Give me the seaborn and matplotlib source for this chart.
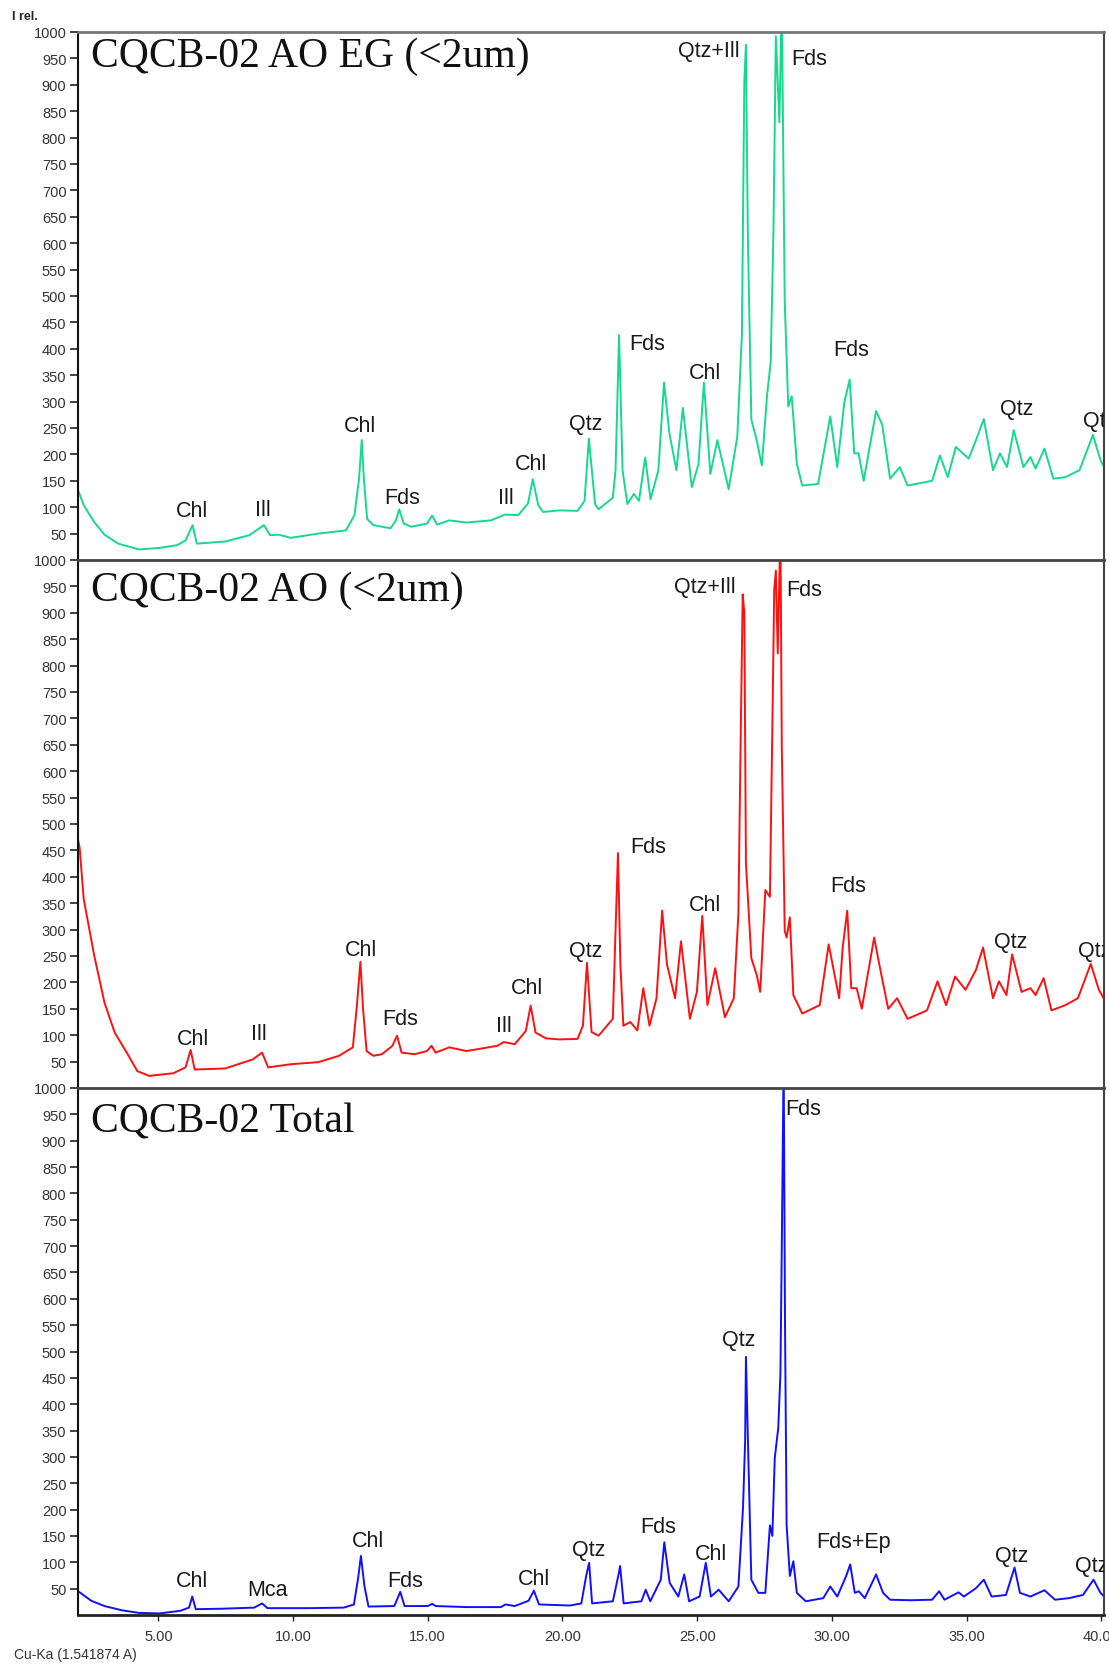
import matplotlib
matplotlib.use("Agg")
import matplotlib.pyplot as plt
import seaborn as sns
import pandas as pd

sns.set_theme(style="white")
plt.rcParams['font.family'] = ['Liberation Sans', 'DejaVu Sans']

# ---------------- data (2-theta, intensity) ----------------
eg_x = [2.0, 2.23, 2.62, 3.0, 3.51, 4.28, 5.05, 5.69, 6.01, 6.27, 6.43, 7.48, 8.38, 8.92, 9.15, 9.47, 9.91,
        10.94, 11.96, 12.28, 12.45, 12.55, 12.63, 12.75, 12.98, 13.62, 13.82, 13.94, 14.11, 14.39, 14.97,
        15.16, 15.35, 15.8, 16.44, 17.34, 17.88, 18.36, 18.72, 18.9, 19.1, 19.28, 19.9,
        20.56, 20.82, 20.98, 21.21, 21.34, 21.87, 21.97, 22.1, 22.23, 22.41, 22.65, 22.84, 23.07, 23.27,
        23.56, 23.77, 23.97, 24.23, 24.47, 24.8, 25.05, 25.25, 25.49, 25.75, 26.17, 26.49, 26.66, 26.75,
        26.81, 26.88, 27.01, 27.21, 27.4, 27.59, 27.73, 27.83, 27.92, 28.05, 28.14, 28.25, 28.38, 28.51,
        28.7, 28.9, 29.49, 29.94, 30.2, 30.46, 30.66, 30.83, 30.99, 31.18, 31.64, 31.87, 32.16, 32.52,
        32.81, 33.72, 34.01, 34.3, 34.6, 35.08, 35.4, 35.64, 35.98, 36.24, 36.5, 36.75, 37.11, 37.37,
        37.56, 37.89, 38.22, 38.67, 39.19, 39.69, 39.97, 40.16]
eg_y = [135, 104, 72, 48, 31, 20, 23, 28, 37, 66, 31, 35, 47, 66, 47, 48, 42,
        50, 56, 85, 154, 227, 154, 78, 66, 60, 75, 96, 69, 63, 69,
        84, 67, 75, 71, 75, 86, 85, 107, 153, 104, 91, 94,
        93, 112, 230, 106, 96, 118, 170, 426, 170, 106, 125, 112, 194, 115,
        170, 336, 240, 170, 288, 138, 182, 336, 163, 227, 134, 234, 426, 906,
        976, 618, 266, 227, 179, 310, 375, 618, 992, 829, 1060, 490, 291, 310,
        182, 141, 144, 272, 176, 298, 342, 202, 202, 150, 282, 256, 154, 176,
        141, 150, 198, 157, 214, 192, 234, 267, 170, 202, 176, 246, 176, 195,
        173, 211, 154, 157, 170, 237, 189, 170]

ao_x = [2.0, 2.08, 2.23, 2.62, 3.0, 3.38, 3.83, 4.22, 4.66, 5.56, 6.01, 6.2, 6.35, 7.48, 8.5, 8.85, 9.08,
        9.91, 10.94, 11.71, 12.22, 12.37, 12.5, 12.6, 12.73, 12.98, 13.3, 13.69, 13.86, 14.03, 14.52,
        14.97, 15.14, 15.29, 15.8, 16.44, 17.59, 17.82, 18.23, 18.64, 18.82, 19.0, 19.39, 19.9,
        20.56, 20.76, 20.91, 21.08, 21.34, 21.87, 21.97, 22.06, 22.15, 22.26, 22.52, 22.78, 23.0, 23.23,
        23.49, 23.7, 23.88, 24.18, 24.4, 24.73, 24.99, 25.19, 25.38, 25.67, 26.03, 26.36, 26.53, 26.62,
        26.69, 26.75, 26.81, 27.01, 27.21, 27.34, 27.53, 27.7, 27.79, 27.86, 27.92, 27.99, 28.09, 28.14,
        28.25, 28.32, 28.44, 28.57, 28.9, 29.55, 29.88, 30.27, 30.4, 30.57, 30.72, 30.92, 31.11, 31.57,
        31.76, 32.09, 32.42, 32.81, 33.53, 33.92, 34.24, 34.57, 34.96, 35.35, 35.61, 35.98, 36.2, 36.48,
        36.69, 37.04, 37.37, 37.56, 37.86, 38.15, 38.67, 39.13, 39.61, 39.91, 40.16]
ao_y = [475, 455, 358, 251, 162, 105, 67, 32, 23, 28, 39, 72, 35, 37, 54, 67, 39,
        45, 49, 61, 77, 156, 239, 149, 70, 61, 64, 80, 99, 67, 64,
        70, 80, 67, 77, 70, 80, 87, 83, 108, 156, 105, 94, 92,
        93, 118, 237, 106, 99, 131, 298, 445, 234, 118, 125, 109, 189, 118,
        170, 336, 234, 170, 278, 131, 182, 326, 157, 227, 134, 170, 330, 682,
        935, 900, 426, 246, 214, 182, 375, 362, 682, 944, 980, 823, 1060, 650,
        298, 285, 323, 176, 141, 157, 272, 170, 266, 336, 189, 189, 150, 285,
        234, 150, 170, 131, 147, 202, 157, 211, 186, 224, 266, 170, 202, 176,
        253, 182, 189, 176, 208, 147, 157, 170, 235, 186, 163]

tot_x = [2.0, 2.51, 3.0, 3.64, 4.28, 5.05, 5.82, 6.14, 6.26, 6.39, 7.41, 8.56, 8.85, 9.05, 10.6, 11.88,
         12.26, 12.41, 12.52, 12.65, 12.8, 13.76, 13.98, 14.14, 15.0, 15.16, 15.3, 16.44, 17.72, 17.88,
         18.23, 18.74, 18.94, 19.13, 20.28, 20.7, 20.88, 20.99, 21.1, 21.87, 22.07, 22.14, 22.27, 22.93,
         23.09, 23.26, 23.65, 23.78, 23.98, 24.3, 24.52, 24.7, 25.09, 25.32, 25.51, 25.8, 26.17, 26.53,
         26.7, 26.78, 26.81, 26.9, 27.01, 27.27, 27.53, 27.7, 27.79, 27.88, 28.01, 28.09, 28.14, 28.21,
         28.26, 28.32, 28.44, 28.57, 28.7, 29.03, 29.68, 29.94, 30.2, 30.53, 30.68, 30.85, 31.0, 31.22,
         31.64, 31.9, 32.16, 32.94, 33.72, 33.98, 34.18, 34.7, 34.9, 35.35, 35.64, 35.93, 36.46, 36.78,
         36.98, 37.37, 37.89, 38.28, 38.8, 39.32, 39.71, 39.97, 40.16]
tot_y = [46, 27, 17, 9, 4, 3, 8, 14, 35, 11, 12, 14, 22, 13, 13, 14,
         20, 68, 112, 55, 16, 17, 44, 17, 17, 21, 17, 15, 15, 20,
         17, 27, 46, 20, 18, 22, 74, 99, 22, 26, 74, 93, 22, 26,
         48, 26, 67, 138, 61, 35, 77, 26, 35, 99, 35, 48, 26, 54,
         202, 330, 490, 298, 67, 42, 42, 170, 150, 298, 355, 458, 695, 1060,
         554, 170, 74, 102, 42, 26, 32, 54, 35, 74, 96, 42, 45, 32,
         77, 42, 29, 28, 29, 45, 29, 43, 35, 51, 67, 35, 38, 90,
         42, 35, 47, 29, 32, 38, 67, 42, 32]

titles = ["CQCB-02 AO EG (<2um)", "CQCB-02 AO (<2um)", "CQCB-02 Total"]
colors = ["#14d98e", "#ff1010", "#1010ff"]

eg_labels = ["Chl", "Ill", "Chl", "Fds", "Ill", "Chl", "Qtz", "Fds", "Chl", "Qtz+Ill", "Fds", "Fds", "Qtz", "Qtz"]
eg_lx = [6.26, 8.87, 12.5, 14.04, 17.9, 18.85, 20.86, 23.15, 25.28, 25.44, 29.15, 30.73, 36.85, 39.95]
eg_ly = [94, 96, 255, 119, 119, 183, 259, 410, 356, 965, 949, 398, 287, 265]

ao_labels = ["Chl", "Ill", "Chl", "Fds", "Ill", "Chl", "Qtz", "Fds", "Chl", "Qtz+Ill", "Fds", "Fds", "Qtz", "Qtz"]
ao_lx = [6.3, 8.75, 12.54, 13.96, 17.83, 18.69, 20.86, 23.19, 25.28, 25.28, 28.99, 30.61, 36.65, 39.75]
ao_ly = [94, 103, 263, 131, 119, 191, 261, 458, 348, 949, 945, 384, 277, 261]

tot_labels = ["Chl", "Mca", "Chl", "Fds", "Chl", "Qtz", "Fds", "Chl", "Qtz", "Fds", "Fds+Ep", "Qtz", "Qtz"]
tot_lx = [6.26, 9.06, 12.77, 14.15, 18.93, 20.98, 23.55, 25.52, 26.55, 28.95, 30.81, 36.69, 39.65]
tot_ly = [66, 48, 141, 66, 70, 125, 167, 117, 523, 961, 139, 113, 94]

yticks = list(range(50, 1001, 50))
xticks = [5, 10, 15, 20, 25, 30, 35, 40]
xtick_labels = ["5.00", "10.00", "15.00", "20.00", "25.00", "30.00", "35.00", "40.00"]

# ---------------- figure ----------------
W, H = 1109, 1665
fig = plt.figure(figsize=(W / 100, H / 100), dpi=100)
left = 77.5 / W
width = (1104 - 77.5) / W
panels = [(33, 561), (561, 1089), (1089, 1616)]

series = [(eg_x, eg_y, eg_labels, eg_lx, eg_ly),
          (ao_x, ao_y, ao_labels, ao_lx, ao_ly),
          (tot_x, tot_y, tot_labels, tot_lx, tot_ly)]

axes = []
for i, ((top, bot), (xs, ys, labs, lxs, lys)) in enumerate(zip(panels, series)):
    ax = fig.add_axes([left, (H - bot) / H, width, (bot - top) / H])
    df = pd.DataFrame({"two_theta": xs, "intensity": ys})
    sns.lineplot(data=df, x="two_theta", y="intensity", ax=ax, color=colors[i],
                 linewidth=1.4, estimator=None, sort=False)
    ax.set_xlim(2, 40.1)
    ax.set_ylim(0, 1000)
    ax.set_xlabel("")
    ax.set_ylabel("")
    ax.set_yticks(yticks)
    ax.set_yticklabels([str(v) for v in yticks])
    ax.tick_params(axis="y", direction="out", length=6, width=1.2, color="#222222",
                   labelsize=10.5, labelcolor="#333333", pad=2, left=True)
    if i < 2:
        ax.set_xticks([])
    else:
        ax.set_xticks(xticks)
        ax.set_xticklabels(xtick_labels)
        ax.tick_params(axis="x", direction="out", length=4, width=1.0, color="#222222",
                       labelsize=10.5, labelcolor="#333333", pad=6, bottom=True)
    for name, sp in ax.spines.items():
        sp.set_visible(True)
    ax.spines["left"].set_color("#111111")
    ax.spines["left"].set_linewidth(1.5)
    ax.spines["top"].set_color("#777777" if i == 0 else "#444444")
    ax.spines["top"].set_linewidth(2.0)
    ax.spines["right"].set_color("#444444")
    ax.spines["right"].set_linewidth(1.5)
    ax.spines["bottom"].set_color("#222222" if i == 2 else "#444444")
    ax.spines["bottom"].set_linewidth(2.0 if i == 2 else 0.0)
    ax.set_facecolor("white")
    for lab, lx, ly in zip(labs, lxs, lys):
        t = ax.text(lx, ly, lab, ha="center", va="center", fontsize=15.5,
                    color="#1a1a1a", family=["Liberation Sans", "DejaVu Sans"])
        t.set_clip_on(True)
    ax.text(2.5, [955, 943, 937][i], titles[i], ha="left", va="center",
            fontsize=30, color="#111111", family=["Liberation Serif", "DejaVu Serif"])
    axes.append(ax)

fig.text(12 / W, 1 - 17 / H, "I rel.", ha="left", va="center", fontsize=9,
         fontweight="bold", color="#222222")
fig.text(14 / W, 10 / H, "Cu-Ka (1.541874 A)", ha="left", va="center", fontsize=10,
         color="#333333")

fig.savefig("out.png", dpi=100, facecolor="white")
